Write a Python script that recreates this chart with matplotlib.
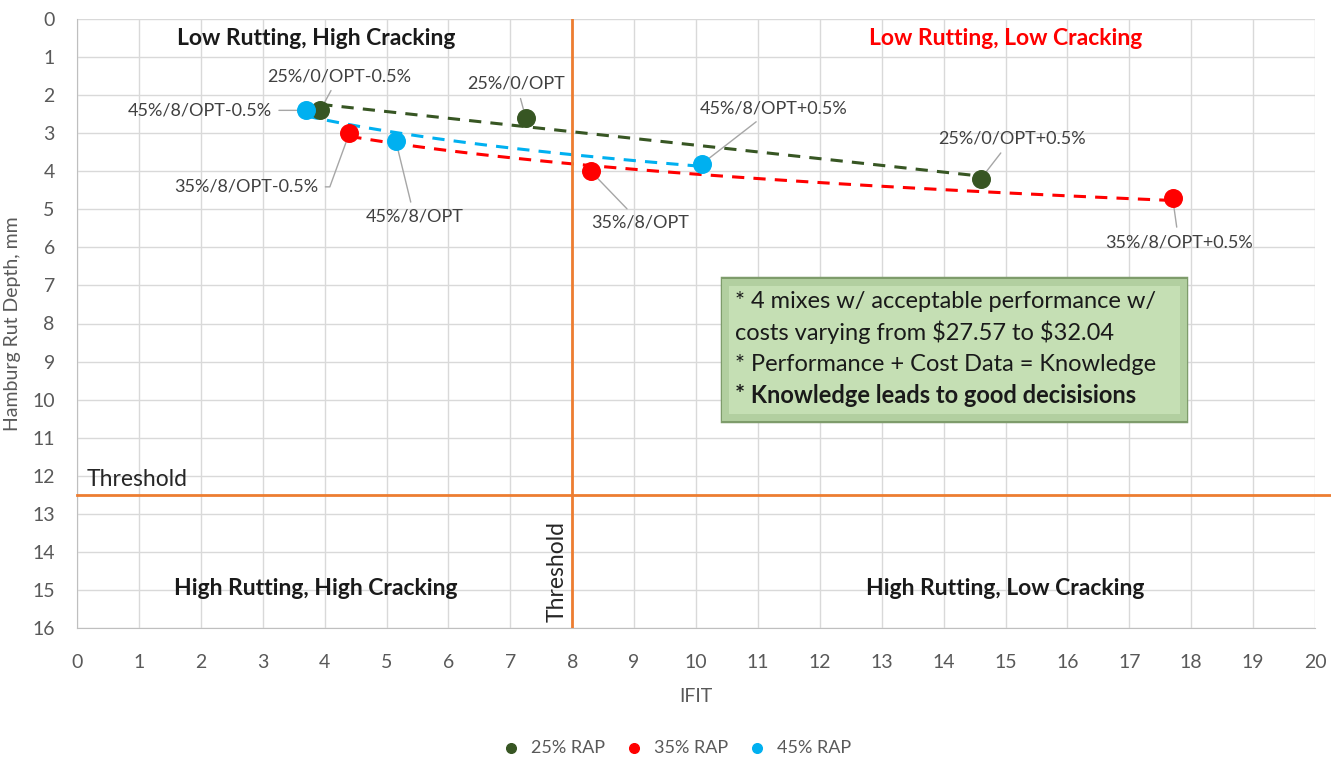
import matplotlib
matplotlib.use("Agg")
import matplotlib.pyplot as plt
import numpy as np
from matplotlib.patches import Rectangle

plt.rcParams["font.family"] = ["Lato", "DejaVu Sans"]

# mix data (IFIT, Hamburg rut depth mm)
ifit_25 = [3.93, 7.25, 14.6]
rut_25 = [2.4, 2.6, 4.2]
names_25 = ["25%/0/OPT-0.5%", "25%/0/OPT", "25%/0/OPT+0.5%"]

ifit_35 = [4.4, 8.3, 17.7]
rut_35 = [3.0, 4.0, 4.7]
names_35 = ["35%/8/OPT-0.5%", "35%/8/OPT", "35%/8/OPT+0.5%"]

ifit_45 = [3.7, 5.15, 10.1]
rut_45 = [2.4, 3.2, 3.8]
names_45 = ["45%/8/OPT-0.5%", "45%/8/OPT", "45%/8/OPT+0.5%"]

ifit_threshold = 8
rut_threshold = 12.5

# label offsets (data units) for each point label
offs_25 = [(0.3, -0.9), (-0.15, -0.9), (0.5, -1.05)]
offs_35 = [(-0.5, 1.41), (0.8, 1.35), (0.1, 1.16)]
offs_45 = [(-0.55, 0.0), (0.3, 2.0), (1.15, -1.45)]
ha_35 = ["right", "center", "center"]
ha_45 = ["right", "center", "center"]

green = "#375623"
red = "#FF0000"
blue = "#00B0F0"
orange = "#ED7D31"
txt = "#404040"

fig = plt.figure(figsize=(13.31, 7.64), dpi=100)
ax = fig.add_axes([77 / 1331, 1 - 628 / 764, (1315 - 77) / 1331, (628 - 19) / 764])

ax.set_xlim(0, 20)
ax.set_ylim(16, 0)
ax.set_xticks(range(0, 21))
ax.set_yticks(range(0, 17))
ax.grid(True, color="#D9D9D9", linewidth=1)
ax.set_axisbelow(True)
ax.tick_params(length=0, labelsize=14, colors="#595959")
ax.tick_params(axis="x", pad=19)
ax.tick_params(axis="y", pad=16)
for s in ["top", "right"]:
    ax.spines[s].set_visible(False)
for s in ["left", "bottom"]:
    ax.spines[s].set_color("#BFBFBF")
ax.set_xlabel("IFIT", fontsize=14, color="#595959", va="center")
ax.set_ylabel("Hamburg Rut Depth, mm", fontsize=14, color="#595959", va="center")
ax.xaxis.set_label_coords(0.5, -0.113)
ax.yaxis.set_label_coords(-0.0525, 0.5)

# trendlines
xs = np.linspace(min(ifit_25), max(ifit_25), 100)
p = np.polyfit(ifit_25, rut_25, 1)
ax.plot(xs, np.polyval(p, xs), "--", color=green, lw=2.2, dashes=(4, 3), zorder=2)
for xv, yv, c in [(ifit_35, rut_35, red), (ifit_45, rut_45, blue)]:
    xs = np.linspace(min(xv), max(xv), 100)
    p = np.polyfit(np.log(xv), yv, 1)
    ax.plot(xs, np.polyval(p, np.log(xs)), "--", color=c, lw=2.2, dashes=(4, 3), zorder=2)

ax.scatter(ifit_25, rut_25, s=160, color=green, zorder=4, label="25% RAP")
ax.scatter(ifit_35, rut_35, s=160, color=red, zorder=4, label="35% RAP")
ax.scatter(ifit_45, rut_45, s=160, color=blue, zorder=4, label="45% RAP")

# point labels with leader lines
groups = [
    (ifit_25, rut_25, names_25, offs_25, ["center"] * 3),
    (ifit_35, rut_35, names_35, offs_35, ha_35),
    (ifit_45, rut_45, names_45, offs_45, ha_45),
]
for xv, yv, names, offs, has in groups:
    for x, y, n, (dx, dy), ha in zip(xv, yv, names, offs, has):
        conn = "arc3"
        if ha == "right" and dy != 0:
            conn = "angle,angleA=0,angleB=70,rad=0"
        ax.annotate(n, xy=(x, y), xytext=(x + dx, y + dy), ha=ha, va="center",
                    fontsize=13, color=txt,
                    arrowprops=dict(arrowstyle="-", color="#A6A6A6", lw=1,
                                    shrinkA=3, shrinkB=0, connectionstyle=conn),
                    zorder=3)

# thresholds
ax.axvline(ifit_threshold, color=orange, lw=2, zorder=3)
ax.plot([0, 20.3], [rut_threshold, rut_threshold], color=orange, lw=2,
        zorder=3, clip_on=False)
ax.text(0.16, rut_threshold - 0.12, "Threshold", fontsize=16.5, color="#262626",
        va="bottom", ha="left")
ax.text(ifit_threshold - 0.08, 15.85, "Threshold", fontsize=16.5, color="#262626",
        rotation=90, va="bottom", ha="right")

# quadrant labels
qkw = dict(fontsize=16.5, fontweight="bold", ha="center", va="center")
ax.text(3.86, 0.5, "Low Rutting, High Cracking", color="#1a1a1a", **qkw)
ax.text(15.0, 0.5, "Low Rutting, Low Cracking", color=red, **qkw)
ax.text(3.86, 14.95, "High Rutting, High Cracking", color="#1a1a1a", **qkw)
ax.text(15.0, 14.95, "High Rutting, Low Cracking", color="#1a1a1a", **qkw)

# note box
ax.add_patch(Rectangle((10.42, 6.8), 7.5, 3.76, facecolor="#C5DFB4",
                       edgecolor="#7E9C6B", lw=2.5, zorder=5))
ax.add_patch(Rectangle((10.47, 6.9), 7.4, 3.56, facecolor="none",
                       edgecolor="#B2CFA0", lw=5, zorder=5))
notes = ["* 4 mixes w/ acceptable performance w/",
         "costs varying from \\$27.57 to \\$32.04",
         "* Performance + Cost Data = Knowledge",
         "* Knowledge leads to good decisisions"]
for i, line in enumerate(notes):
    ax.text(10.63, 7.41 + i * 0.83, line, fontsize=17, color="#1a1a1a",
            va="center", ha="left", zorder=6,
            fontweight="bold" if i == 3 else "normal")

fig.legend(loc="center", ncol=3, frameon=False, fontsize=13,
           bbox_to_anchor=(0.505, 1 - 748 / 764), handletextpad=0.1,
           columnspacing=0.6, markerscale=0.55, labelcolor="#595959")

fig.savefig("out.png", dpi=100)
